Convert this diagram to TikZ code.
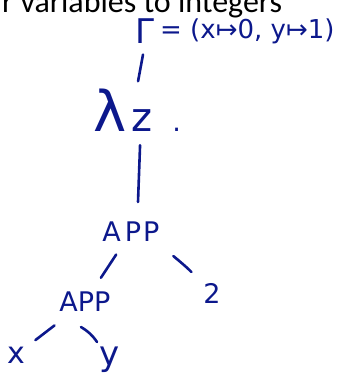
\documentclass[tikz,border=0pt]{standalone}
\usepackage{fontspec}
\setmainfont{DejaVu Sans}
\newfontfamily\slidefont{Carlito}
\definecolor{ink}{RGB}{12,24,140}
\tikzset{
  hand/.style={text=ink, inner sep=0pt, font=\fontsize{27}{27}\selectfont},
  stroke/.style={draw=ink, line width=2.6pt, line cap=round}
}
\begin{document}
\begin{tikzpicture}[x=1pt,y=-1pt]
\useasboundingbox (0,0) rectangle (339,375);
\begin{scope}
\clip (0,0) rectangle (339,375);
\node[anchor=base west, inner sep=0pt, font=\slidefont\fontsize{32}{32}\selectfont] (title) at (2,12) {r variables to integers};
\end{scope}
% labels
\node[hand, font=\fontsize{34}{34}\selectfont] (gam) at (145,31) {Γ};
\node[hand, anchor=west, font=\fontsize{26}{30}\selectfont] (env) at (160,31) {= (x↦0, y↦1)};
\node[hand, anchor=base west] (lam) at (93,131) {{\fontsize{56}{56}\selectfont λ}\kern5pt{\fontsize{40}{40}\selectfont z}\hspace{20pt}.};
\node[hand] (app1) at (131,232) {A\kern4pt P\kern2pt P};
\node[hand] (app2) at (85,302) {APP};
\node[hand] (two) at (212,293) {2};
\node[hand, font=\fontsize{30}{30}\selectfont] (nx) at (16,355) {x};
\node[hand, font=\fontsize{34}{34}\selectfont] (ny) at (110,360) {y};
% connectors
\draw[stroke] ([shift={(-2,11)}]gam.south) -- ([shift={(1,-7)}]lam.north);
\draw[stroke] ([shift={(3,14)}]lam.south) -- ([shift={(7,-20)}]app1.north);
\draw[stroke, shorten <=15pt, shorten >=17pt] (app1) -- (app2);
\draw[stroke, shorten <=28pt, shorten >=17pt] (app1) to[bend left=8] (two);
\draw[stroke, shorten <=22pt, shorten >=13pt] (app2) -- (nx);
\draw[stroke] ([shift={(-4,15)}]app2.south) to[bend left=12] ([shift={(-13,-5)}]ny.north);
\end{tikzpicture}
\end{document}
